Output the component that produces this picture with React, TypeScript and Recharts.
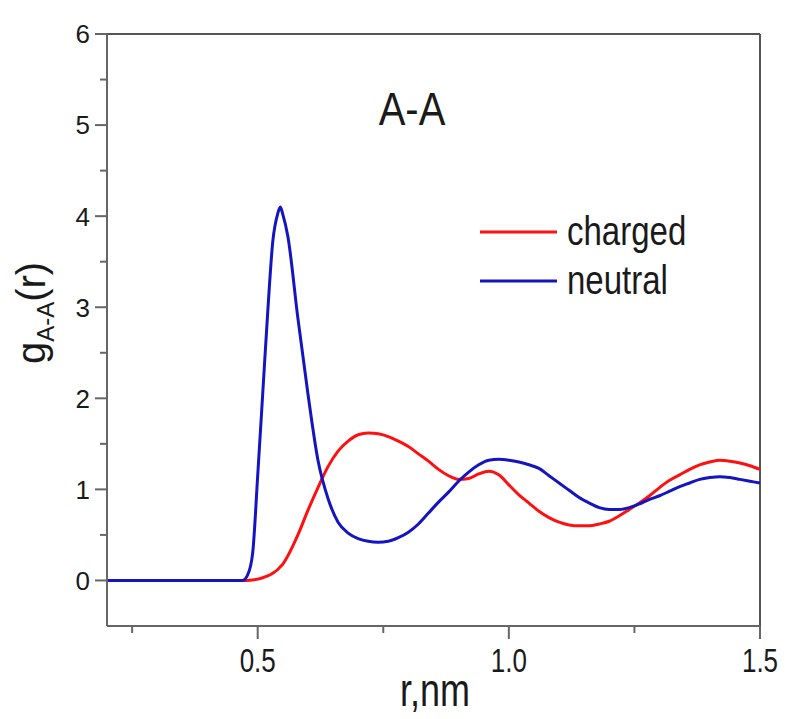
import React from "react";
import { LineChart, Line, XAxis, YAxis, ReferenceLine } from "recharts";

// radial distribution g(r) for the A-A pair, charged vs neutral system
const R = [
  0.2, 0.3, 0.4, 0.46, 0.47, 0.48, 0.49, 0.5, 0.51, 0.52, 0.53, 0.54, 0.545, 0.55, 0.56,
  0.58, 0.6, 0.62, 0.64, 0.66, 0.68, 0.7, 0.72, 0.74, 0.76, 0.78, 0.8, 0.82, 0.84, 0.86,
  0.88, 0.9, 0.92, 0.94, 0.96, 0.98, 1.0, 1.02, 1.04, 1.06, 1.08, 1.1, 1.12, 1.14, 1.16,
  1.18, 1.2, 1.22, 1.24, 1.26, 1.28, 1.3, 1.32, 1.34, 1.36, 1.38, 1.4, 1.42, 1.44, 1.46,
  1.48, 1.5,
];

const CHARGED = [
  0, 0, 0, 0, 0, 0, 0.005, 0.015, 0.03, 0.05, 0.08, 0.12, 0.15, 0.18, 0.27,
  0.5, 0.77, 1.02, 1.25, 1.42, 1.53, 1.6, 1.62, 1.61, 1.58, 1.53, 1.47, 1.39, 1.31, 1.22,
  1.15, 1.11, 1.12, 1.17, 1.2, 1.16, 1.05, 0.94, 0.85, 0.76, 0.69, 0.64, 0.61, 0.6, 0.6,
  0.62, 0.65, 0.71, 0.78, 0.85, 0.93, 1.02, 1.1, 1.16, 1.22, 1.27, 1.3, 1.32, 1.31, 1.29,
  1.26, 1.22,
];

const NEUTRAL = [
  0, 0, 0, 0, 0, 0.06, 0.3, 1.15, 2.05, 2.95, 3.72, 4.03, 4.1, 4.02, 3.78,
  2.88, 2.05, 1.32, 0.9, 0.64, 0.52, 0.46, 0.43, 0.42, 0.43, 0.47, 0.53, 0.62, 0.74, 0.86,
  0.97, 1.09, 1.19, 1.27, 1.32, 1.33, 1.32, 1.3, 1.27, 1.23, 1.15, 1.07, 0.99, 0.91, 0.85,
  0.8, 0.78, 0.78, 0.8, 0.84, 0.89, 0.93, 0.98, 1.03, 1.07, 1.11, 1.13, 1.14, 1.13, 1.11,
  1.09, 1.07,
];

const X_TICKS = [0.25, 0.5, 0.75, 1.0, 1.25, 1.5];
const Y_TICKS = [0, 0.5, 1, 1.5, 2, 2.5, 3, 3.5, 4, 4.5, 5, 5.5, 6];

const SERIES = [
  { key: "charged", color: "#ff1010" },
  { key: "neutral", color: "#1414c0" },
];

const data = R.map((r, i) => ({ r, charged: CHARGED[i], neutral: NEUTRAL[i] }));

const FONT = "'Liberation Sans', Arial, sans-serif";
const AXIS = "#666";
const INK = "#1a1a1a";

function XTick({ x, y, payload }: any) {
  const v = payload.value as number;
  const major = Math.abs(v * 2 - Math.round(v * 2)) < 1e-6;
  return (
    <g>
      <line x1={x} y1={y} x2={x} y2={y + (major ? 13 : 7)} stroke={AXIS} strokeWidth={2} />
      {major && (
        <text
          transform={`translate(${x},${y + 46}) scale(1,1.3)`}
          textAnchor="middle"
          fontSize={26}
          fontFamily={FONT}
          fill={INK}
        >
          {v.toFixed(1)}
        </text>
      )}
    </g>
  );
}

function YTick({ x, y, payload }: any) {
  const v = payload.value as number;
  const major = Number.isInteger(v);
  return (
    <g>
      <line x1={x - (major ? 12 : 7)} y1={y} x2={x} y2={y} stroke={AXIS} strokeWidth={2} />
      {major && (
        <text x={x - 17} y={y} dy="0.36em" textAnchor="end" fontSize={26} fontFamily={FONT} fill={INK}>
          {v}
        </text>
      )}
    </g>
  );
}

export default function App() {
  return (
    <div style={{ position: "absolute", left: 0, top: 0, width: 785, height: 719, background: "#fff" }}>
      <LineChart width={785} height={719} data={data} margin={{ top: 34, right: 25, left: 47, bottom: 33 }}>
        <XAxis
          dataKey="r"
          type="number"
          domain={[0.2, 1.5]}
          ticks={X_TICKS}
          height={60}
          tickSize={0}
          tickMargin={0}
          tickLine={false}
          axisLine={{ stroke: AXIS, strokeWidth: 2 }}
          tick={<XTick />}
          interval={0}
          allowDataOverflow
        />
        <YAxis
          type="number"
          domain={[-0.5, 6]}
          ticks={Y_TICKS}
          width={60}
          tickSize={0}
          tickMargin={0}
          tickLine={false}
          axisLine={{ stroke: AXIS, strokeWidth: 2 }}
          tick={<YTick />}
          interval={0}
          allowDataOverflow
        />
        <ReferenceLine y={6} stroke="#555" strokeWidth={2} />
        <ReferenceLine x={1.5} stroke="#555" strokeWidth={2} />
        {SERIES.map((s) => (
          <Line
            key={s.key}
            type="monotone"
            dataKey={s.key}
            name={s.key}
            stroke={s.color}
            strokeWidth={3}
            dot={false}
            isAnimationActive={false}
          />
        ))}
      </LineChart>
      <svg
        width={785}
        height={719}
        style={{ position: "absolute", left: 0, top: 0, pointerEvents: "none", overflow: "hidden" }}
      >
        <text transform="translate(412,125) scale(1,1.15)" textAnchor="middle" fontSize={40} fontFamily={FONT} fill={INK}>
          A-A
        </text>
        {/* legend */}
        {SERIES.map((s, i) => (
          <g key={s.key} transform={`translate(470,${200 + i * 49})`}>
            <line x1={10} y1={32} x2={87} y2={32} stroke={s.color} strokeWidth={3} />
            <text transform="translate(97,45) scale(1,1.25)" fontSize={33} fontFamily={FONT} fill={INK}>
              {s.key}
            </text>
          </g>
        ))}
        <text transform="translate(45,313) rotate(-90)" textAnchor="middle" fontSize={40} fontFamily={FONT} fill={INK}>
          g
          <tspan fontSize={24} dy={9}>
            A-A
          </tspan>
          <tspan fontSize={40} dy={-9}>
            (r)
          </tspan>
        </text>
        <text transform="translate(400,706) scale(1,1.3)" fontSize={36} fontFamily={FONT} fill={INK}>
          r,nm
        </text>
      </svg>
    </div>
  );
}
